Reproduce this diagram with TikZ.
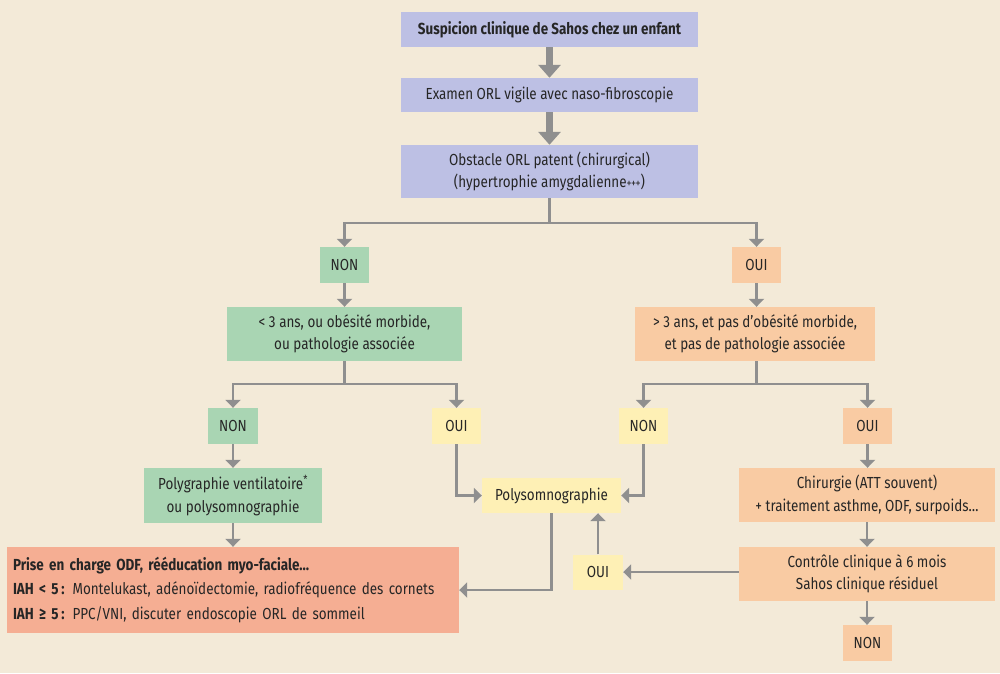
\documentclass[tikz,border=0pt]{standalone}
\usepackage{fontspec}
\setmainfont{Fira Sans}[FakeStretch=0.84]
\usetikzlibrary{arrows.meta}
\definecolor{bg}{HTML}{F3EAD8}
\definecolor{cblue}{HTML}{BDC0E4}
\definecolor{cgreen}{HTML}{A9D5B3}
\definecolor{corange}{HTML}{F9CBA3}
\definecolor{cyellow}{HTML}{FEF0B5}
\definecolor{csalmon}{HTML}{F5AE93}
\definecolor{cgray}{HTML}{8F8F8F}
\tikzset{
  bx/.style={inner sep=0pt, align=center, font=\fontsize{16}{22.5}\selectfont, text=black!85},
  conn/.style={draw=cgray, line width=2.6pt},
  arr/.style={conn, -{Triangle[width=15pt,length=8pt]}},
  bigarr/.style={draw=cgray, line width=7pt, -{Triangle[width=22pt,length=13pt]}},
}
\begin{document}
\begin{tikzpicture}[x=1pt,y=-1pt]
\fill[bg] (0,0) rectangle (1000,673);
\useasboundingbox (0,0) rectangle (1000,673);

\node[bx, fill=cblue, minimum width=297, minimum height=35] (s1) at (549.5,29.5) {\bfseries Suspicion clinique de Sahos chez un enfant};
\node[bx, fill=cblue, minimum width=297, minimum height=34] (s2) at (549.5,95) {Examen ORL vigile avec naso-fibroscopie};
\node[bx, fill=cblue, minimum width=297, minimum height=53] (s3) at (549.5,171.5) {Obstacle ORL patent (chirurgical)\\(hypertrophie amygdalienne\raisebox{0.5pt}{\fontsize{12}{12}\selectfont+\kern-0.5pt+\kern-0.5pt+})};

\node[bx, fill=cgreen, minimum width=49, minimum height=36] (n1) at (344.5,265) {NON};
\node[bx, fill=corange, minimum width=49, minimum height=36] (o1) at (756.5,265) {OUI};

\node[bx, fill=cgreen, minimum width=235, minimum height=54] (g1) at (344.5,334) {< 3 ans, ou obésité morbide,\\ou pathologie associée};
\node[bx, fill=corange, minimum width=240, minimum height=54] (r1) at (755,334) {> 3 ans, et pas d’obésité morbide,\\et pas de pathologie associée};

\node[bx, fill=cgreen, minimum width=50, minimum height=36] (n2) at (233,426) {NON};
\node[bx, fill=cyellow, minimum width=49, minimum height=36] (y1) at (456.5,426) {OUI};
\node[bx, fill=cyellow, minimum width=49, minimum height=36] (y2) at (643.5,426) {NON};
\node[bx, fill=corange, minimum width=49, minimum height=36] (o2) at (867.5,426) {OUI};

\node[bx, fill=cgreen, minimum width=178, minimum height=55] (g2) at (233,495.5) {Polygraphie ventilatoire\textsuperscript{*}\\ou polysomnographie};
\node[bx, fill=cyellow, minimum width=139, minimum height=35] (p) at (551.5,495.5) {Polysomnographie};
\node[bx, fill=corange, minimum width=256, minimum height=54] (c1) at (867,495) {Chirurgie (ATT souvent)\\+ traitement asthme, ODF, surpoids…};
\node[bx, fill=corange, minimum width=256, minimum height=54] (c2) at (867,574) {Contrôle clinique à 6 mois\\Sahos clinique résiduel};
\node[bx, fill=corange, minimum width=49, minimum height=36] (n3) at (867.5,643) {NON};
\node[bx, fill=cyellow, minimum width=50, minimum height=35] (y3) at (598,572) {OUI};

\node[bx, fill=csalmon, minimum width=452, minimum height=86, align=left, text width=440, inner xsep=6pt, font=\fontsize{16}{24.5}\selectfont] (pr) at (233,590)
  {\textbf{Prise en charge ODF, rééducation myo-faciale…}\\
   \textbf{IAH < 5\,:} Montelukast, adénoïdectomie, radiofréquence des cornets\\
   \textbf{IAH ≥ 5\,:} PPC/VNI, discuter endoscopie ORL de sommeil};

\draw[bigarr] (s1.south) -- (s2.north);
\draw[bigarr] (s2.south) -- (s3.north);

\coordinate (j1) at (549.5,223);
\draw[conn] (s3.south) -- (j1);
\draw[arr] (j1) -| (n1.north);
\draw[arr] (j1) -| (o1.north);
\draw[arr] (n1.south) -- (g1.north);
\draw[arr] (o1.south) -- (o1.south |- r1.north);

\coordinate (j2) at (344.5,384);
\draw[conn] (g1.south) -- (j2);
\draw[arr] (j2) -| (n2.north);
\draw[arr] (j2) -| (y1.north);
\coordinate (j3) at (756.5,384);
\draw[conn] (j3 |- r1.south) -- (j3);
\draw[arr] (j3) -| (y2.north);
\draw[arr] (j3) -| (o2.north);

\draw[arr] (n2.south) -- (g2.north);
\draw[arr] (o2.south) -- (o2.south |- c1.north);
\draw[arr] (y1.south) |- (p.west);
\draw[arr] (y2.south) |- (p.east);
\draw[arr] (g2.south) -- (pr.north);
\draw[arr] (p.south) |- (pr.east);
\draw[arr] (c1.south) -- (c2.north);
\draw[arr] (c2.south) -- (c2.south |- n3.north);
\draw[arr] (c2.west |- y3.east) -- (y3.east);
\draw[arr] (y3.north) -- (y3.north |- p.south);
\end{tikzpicture}
\end{document}
